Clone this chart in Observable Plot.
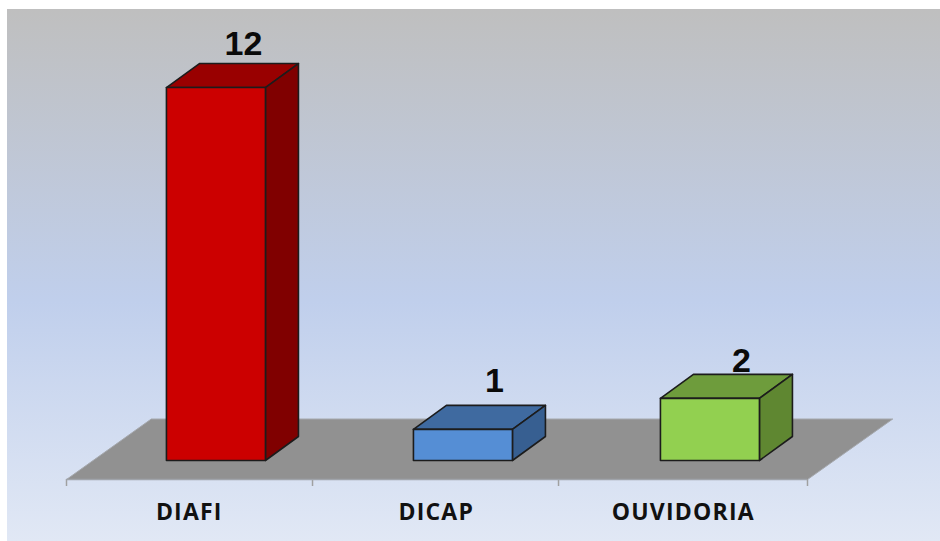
<!DOCTYPE html>
<html><head><meta charset="utf-8">
<script src="https://cdn.jsdelivr.net/npm/d3@7"></script>
<script src="https://cdn.jsdelivr.net/npm/@observablehq/plot@0.6"></script>
<style>
html,body{margin:0;padding:0;background:#fff}
#c svg{display:block;background:linear-gradient(180deg,#bfbfbf 0%,#c0cfec 55%,#e1e8f5 100%) no-repeat;background-size:933px 532px;background-position:7px 9px}
.cat text{letter-spacing:1.2px}
</style></head><body><div id="c"></div>
<script>
const categories = ["DIAFI","DICAP","OUVIDORIA"];
const values = [12,1,2];
const frontColors = ["#cc0000","#558ed5","#92d050"];
const topColors = ["#990000","#3f6aa0","#6e9c3c"];
const sideColors = ["#800000","#375f91","#5f8731"];

const W=940,H=541;
const y0px=460, unit=31.08, step=247, left=66;
const ox=left/step;
const bw=99/step, dx=33/step, dy=24/unit, off=0.605;
const X=i=>i+off-bw/2, floorB=-19/unit, floorT=41.5/unit, floorDx=85/step;

const floor=[[0,floorB],[3,floorB],[3+floorDx+0.001,floorT],[floorDx-0.001,floorT]].map(([x,y])=>({x,y}));
const poly=[];
values.forEach((v,i)=>{
  const a=X(i),b=a+bw;
  poly.push({f:topColors[i],k:"t"+i,pts:[[a,v],[b,v],[b+dx,v+dy],[a+dx,v+dy]]});
  poly.push({f:sideColors[i],k:"s"+i,pts:[[b,0],[b+dx,dy],[b+dx,v+dy],[b,v]]});
  poly.push({f:frontColors[i],k:"f"+i,pts:[[a,0],[b,0],[b,v],[a,v]]});
});
const faces=poly.flatMap(p=>[...p.pts,p.pts[0]].map(([x,y])=>({x,y,k:p.k,f:p.f})));
const ticks=[0,0.996,1.992,3];
const labelNudge=[{dx:27.5,dy:-9},{dx:31.5,dy:-13},{dx:31.5,dy:-2.5}];

const plot=Plot.plot({
  width:W,height:H,margin:0,
  x:{type:"linear",domain:[-ox,W/step-ox],range:[0,W],axis:null},
  y:{type:"linear",domain:[y0px/unit,(y0px-H)/unit],range:[0,H],axis:null},
  marks:[
    Plot.line(floor.concat(floor[0]),{x:"x",y:"y",fill:"#919191",stroke:"#a5a8ad",strokeWidth:1,curve:"linear"}),
    Plot.ruleX(ticks,{x:d=>d,y1:floorB,y2:floorB-7/unit,stroke:"#a0a0a0",strokeWidth:1.5}),
    Plot.ruleY([floorB],{x1:0,x2:3,stroke:"#a0a4aa",strokeWidth:1.5}),
    Plot.line(faces,{x:"x",y:"y",z:"k",fill:"f",stroke:"#1c1c1c",strokeWidth:1.6,strokeLinejoin:"round",curve:"linear"}),
    ...values.map((v,i)=>Plot.text([v],{x:()=>X(i)+bw/2,y:()=>v+dy,text:d=>String(d),dx:labelNudge[i].dx,dy:labelNudge[i].dy,
      textAnchor:"middle",lineAnchor:"bottom",fontFamily:"Liberation Sans",fontWeight:"bold",fontSize:34,fill:"#0a0a0a"})),
    Plot.text(categories,{x:(d,i)=>i+0.497,y:()=>floorB,text:d=>d,dy:33,textAnchor:"middle",lineAnchor:"middle",fontFamily:"Open Sans",fontWeight:"bold",fontSize:23,fill:"#111",className:"cat"})
  ]
});
document.getElementById("c").appendChild(plot);
</script></body></html>
